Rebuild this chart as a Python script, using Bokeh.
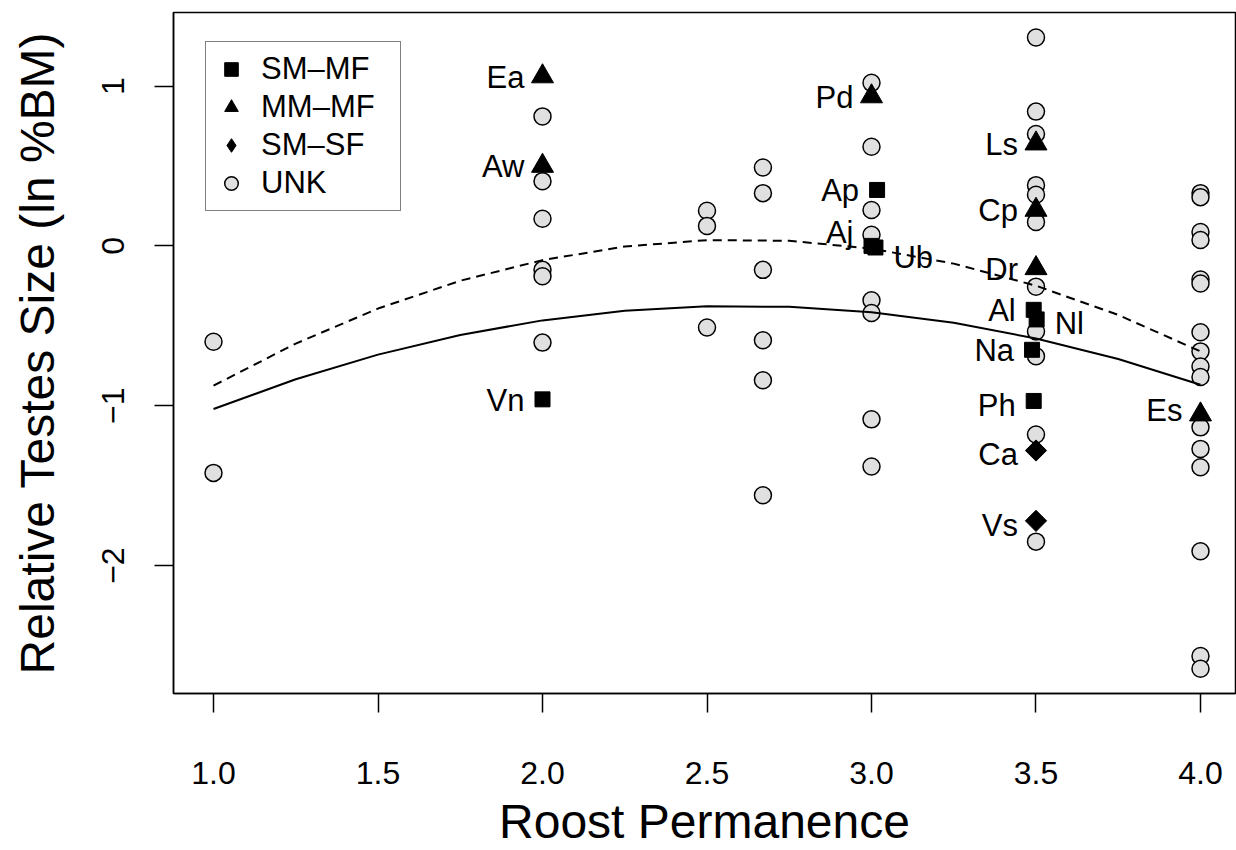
import math
from bokeh.plotting import figure
from bokeh.models import (ColumnDataSource, Legend, LegendItem, FixedTicker,
                          PrintfTickFormatter, CustomJSTickFormatter, Range1d)
from bokeh.embed import file_html
from bokeh.resources import INLINE
from bokeh.core.properties import value

FONT = "Liberation Sans"

# ---------------- data ----------------
# UNK species (grey circles)
unk_x = [1.0, 1.0,
         2.0, 2.0, 2.0, 2.0, 2.0, 2.0,
         2.5, 2.5, 2.5,
         2.67, 2.67, 2.67, 2.67, 2.67, 2.67,
         3.0, 3.0, 3.0, 3.0, 3.0, 3.0, 3.0, 3.0,
         3.5, 3.5, 3.5, 3.5, 3.5, 3.5, 3.5, 3.5, 3.5, 3.5, 3.5,
         4.0, 4.0, 4.0, 4.0, 4.0, 4.0, 4.0, 4.0, 4.0, 4.0, 4.0, 4.0, 4.0, 4.0, 4.0, 4.0]
unk_y = [-0.60, -1.42,
         0.81, 0.405, 0.17, -0.15, -0.19, -0.605,
         0.22, 0.125, -0.51,
         0.49, 0.33, -0.15, -0.59, -0.84, -1.56,
         1.02, 0.62, 0.225, 0.07, -0.34, -0.42, -1.085, -1.38,
         1.304, 0.84, 0.70, 0.38, 0.32, 0.15, -0.255, -0.535, -0.69, -1.18, -1.85,
         0.33, 0.305, 0.087, 0.037, -0.21, -0.235, -0.54, -0.66, -0.755, -0.82,
         -1.135, -1.27, -1.385, -1.91, -2.565, -2.645]

# SM-MF (squares)
smmf_names = ["Vn", "Ap", "Aj", "Ub", "Al", "Nl", "Na", "Ph"]
smmf_x = [2.0, 3.017, 3.0, 3.012, 3.493, 3.502, 3.488, 3.493]
smmf_y = [-0.96, 0.35, 0.0, -0.01, -0.40, -0.46, -0.65, -0.97]

# MM-MF (triangles)
mmmf_names = ["Ea", "Aw", "Pd", "Ls", "Cp", "Dr", "Es"]
mmmf_x = [2.0, 2.0, 3.0, 3.5, 3.5, 3.5, 4.0]
mmmf_y = [1.06, 0.50, 0.935, 0.64, 0.225, -0.14, -1.055]

# SM-SF (diamonds)
smsf_names = ["Ca", "Vs"]
smsf_x = [3.5, 3.5]
smsf_y = [-1.28, -1.72]

# fitted curves
fit_x = [1.0, 1.25, 1.5, 1.75, 2.0, 2.25, 2.5, 2.75, 3.0, 3.25, 3.5, 3.75, 4.0]
fit_solid_y = [-1.020, -0.834, -0.680, -0.557, -0.466, -0.406, -0.378,
               -0.381, -0.415, -0.481, -0.579, -0.708, -0.869]
fit_dashed_y = [-0.874, -0.611, -0.392, -0.218, -0.089, -0.004, 0.036,
                0.032, -0.017, -0.111, -0.249, -0.432, -0.660]

x_ticks = [1.0, 1.5, 2.0, 2.5, 3.0, 3.5, 4.0]
y_ticks = [-2, -1, 0, 1]
legend_labels = ["SM\u2013MF", "MM\u2013MF", "SM\u2013SF", "UNK"]

# label placement (layout only)
right_labels = {"Ub", "Nl"}
label_nudge = {"Aj": -13, "Ub": 10, "Ph": 5, "Ca": 4, "Vs": 5, "Nl": 4, "Es": -4}

# ---------------- figure ----------------
p = figure(width=1236, height=850,
           x_range=Range1d(0.8784, 4.1064), y_range=Range1d(-2.80, 1.46),
           output_backend="svg", toolbar_location=None,
           min_border_left=173, min_border_right=1, min_border_top=12,
           min_border_bottom=156)
p.xgrid.visible = False
p.ygrid.visible = False
p.outline_line_color = "black"
p.outline_line_width = 1.5
p.background_fill_color = "white"
p.border_fill_color = "white"

for ax in (p.xaxis[0], p.yaxis[0]):
    ax.axis_line_color = "black"
    ax.axis_line_width = 1.5
    ax.major_tick_line_color = "black"
    ax.major_tick_line_width = 1.5
    ax.major_tick_in = 0
    ax.major_tick_out = 19
    ax.minor_tick_line_color = None
    ax.major_label_text_font = FONT
    ax.major_label_text_font_size = "32px"
    ax.major_label_text_color = "black"
    ax.axis_label_text_font = FONT
    ax.axis_label_text_font_size = "48px"
    ax.axis_label_text_font_style = "normal"
    ax.axis_label_text_color = "black"

p.xaxis.ticker = FixedTicker(ticks=x_ticks)
p.xaxis.formatter = PrintfTickFormatter(format="%.1f")
p.xaxis.major_label_standoff = 49
p.xaxis.axis_label = "Roost Permanence"
p.xaxis.axis_label_standoff = 8

p.yaxis.ticker = FixedTicker(ticks=y_ticks)
p.yaxis.formatter = CustomJSTickFormatter(
    code="return tick < 0 ? '\\u2212' + Math.abs(tick) : String(tick);")
p.yaxis.major_label_orientation = "vertical"
p.yaxis.major_label_standoff = 30
p.yaxis.axis_label = "Relative Testes Size (ln %BM)"
p.yaxis.axis_label_standoff = 36

# points
r_unk = p.scatter(unk_x, unk_y, marker="circle", size=17, fill_color="#e0e0e0",
                  line_color="black", line_width=1.5)
r_sq = p.scatter(smmf_x, smmf_y, marker="square", size=15, fill_color="black",
                 line_color="black", line_width=1)
r_tri = p.scatter(mmmf_x, mmmf_y, marker="triangle", size=22, fill_color="black",
                  line_color="black", line_width=1)
# diamond marker (used for the legend), fully covered by the rotated squares
r_dia_leg = p.scatter(smsf_x, smsf_y, marker="diamond", size=14, fill_color="black",
                      line_color="black", line_width=1)
r_dia = p.scatter(smsf_x, smsf_y, marker="square", size=15, angle=math.pi / 4,
                  fill_color="black", line_color="black", line_width=1)

# fitted curves
p.line(fit_x, fit_solid_y, line_color="black", line_width=2)
p.line(fit_x, fit_dashed_y, line_color="black", line_width=2, line_dash="9 6")

# species labels
names = smmf_names + mmmf_names + smsf_names
xs = smmf_x + mmmf_x + smsf_x
ys = smmf_y + mmmf_y + smsf_y
left = dict(x=[], y=[], t=[], dy=[])
right = dict(x=[], y=[], t=[], dy=[])
for n, x, y in zip(names, xs, ys):
    d = right if n in right_labels else left
    d["x"].append(x)
    d["y"].append(y)
    d["t"].append(n)
    d["dy"].append(label_nudge.get(n, 1))
p.text(x="x", y="y", text="t", y_offset="dy", source=ColumnDataSource(left),
       text_align="right", text_baseline="middle", x_offset=-18,
       text_font=value(FONT), text_font_size="31px", text_color="black")
p.text(x="x", y="y", text="t", y_offset="dy", source=ColumnDataSource(right),
       text_align="left", text_baseline="middle", x_offset=18,
       text_font=value(FONT), text_font_size="31px", text_color="black")

legend = Legend(items=[
    LegendItem(label=legend_labels[0], renderers=[r_sq]),
    LegendItem(label=legend_labels[1], renderers=[r_tri]),
    LegendItem(label=legend_labels[2], renderers=[r_dia_leg]),
    LegendItem(label=legend_labels[3], renderers=[r_unk]),
], location=(32, 482), glyph_width=34, glyph_height=38, spacing=0, padding=8,
    label_standoff=13, label_width=131, label_height=38,
    label_text_font=FONT, label_text_font_size="31px", label_text_color="black",
    border_line_color="black", border_line_width=1.5,
    background_fill_color="white", background_fill_alpha=1.0)
p.add_layout(legend)

open("out.html", "w").write(file_html(p, INLINE))
